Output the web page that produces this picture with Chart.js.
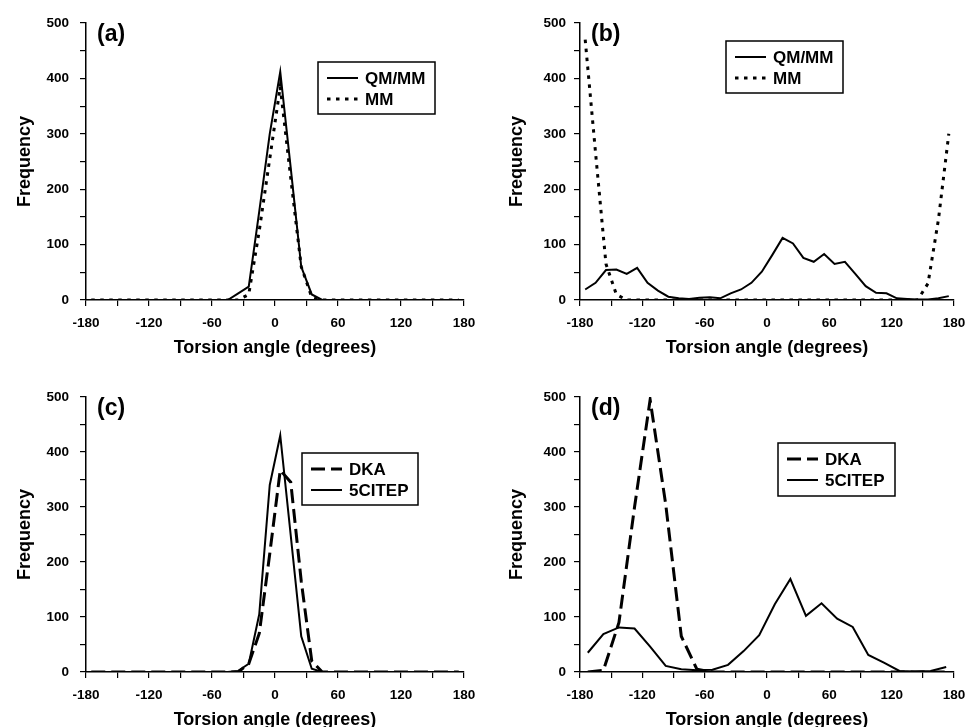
<!DOCTYPE html>
<html>
<head>
<meta charset="utf-8">
<script src="https://cdn.jsdelivr.net/npm/chart.js@4.4.1/dist/chart.umd.min.js"></script>
<style>
  html, body { margin: 0; padding: 0; background: #fff; overflow: hidden; }
  body { width: 969px; height: 727px; position: relative; }
  canvas { position: absolute; }
</style>
</head>
<body>
<canvas id="chartA" width="480" height="360" style="left:0;top:0"></canvas>
<canvas id="chartB" width="489" height="360" style="left:480px;top:0"></canvas>
<canvas id="chartC" width="480" height="380" style="left:0;top:360px"></canvas>
<canvas id="chartD" width="489" height="380" style="left:480px;top:360px"></canvas>
<script>
// bin centres (10 degree bins for a-c, 15 degree bins for d)
const anglesTen = [-175, -165, -155, -145, -135, -125, -115, -105, -95, -85, -75, -65, -55, -45, -35, -25, -15, -5,
  5, 15, 25, 35, 45, 55, 65, 75, 85, 95, 105, 115, 125, 135, 145, 155, 165, 175];
const anglesFifteen = [-172.5, -157.5, -142.5, -127.5, -112.5, -97.5, -82.5, -67.5, -52.5, -37.5, -22.5, -7.5,
  7.5, 22.5, 37.5, 52.5, 67.5, 82.5, 97.5, 112.5, 127.5, 142.5, 157.5, 172.5];

// (a)
const qmmmA = [0, 0, 0, 0, 0, 0, 0, 0, 0, 0, 0, 0, 0, 0, 12, 24, 160, 300,
  412, 238, 60, 10, 0, 0, 0, 0, 0, 0, 0, 0, 0, 0, 0, 0, 0, 0];
const mmA = [0, 0, 0, 0, 0, 0, 0, 0, 0, 0, 0, 0, 0, 0, 0, 10, 125, 255,
  385, 220, 60, 5, 0, 0, 0, 0, 0, 0, 0, 0, 0, 0, 0, 0, 0, 0];
// (b)
const qmmmB = [19, 31, 54, 55, 47, 58, 31, 17, 6, 3, 2, 4, 5, 3, 12, 19, 31, 51,
  81, 112, 102, 76, 69, 83, 65, 69, 47, 25, 13, 12, 3, 2, 1, 1, 3, 7];
const mmB = [470, 265, 65, 10, 0, 0, 0, 0, 0, 0, 0, 0, 0, 0, 0, 0, 0, 0,
  0, 0, 0, 0, 0, 0, 0, 0, 0, 0, 0, 0, 0, 0, 0, 30, 145, 300];
// (c)
const dkaC = [0, 0, 0, 0, 0, 0, 0, 0, 0, 0, 0, 0, 0, 0, 0, 15, 70, 215,
  367, 345, 165, 20, 0, 0, 0, 0, 0, 0, 0, 0, 0, 0, 0, 0, 0, 0];
const citepC = [0, 0, 0, 0, 0, 0, 0, 0, 0, 0, 0, 0, 0, 0, 2, 15, 105, 340,
  430, 248, 65, 6, 0, 0, 0, 0, 0, 0, 0, 0, 0, 0, 0, 0, 0, 0];
// (d)
const dkaD = [0, 3, 90, 300, 495, 305, 65, 5, 0, 0, 0, 0,
  0, 0, 0, 0, 0, 0, 0, 0, 0, 0, 0, 0];
const citepD = [35, 69, 81, 79, 46, 11, 5, 3, 4, 13, 38, 67,
  123, 169, 102, 125, 97, 82, 31, 17, 2, 1, 2, 9];

const FONT = '"Liberation Sans", Arial, Helvetica, sans-serif';
Chart.defaults.font.family = FONT;
Chart.defaults.color = '#000';

const SOLID = { borderDash: [], borderWidth: 2 };
const DOTTED = { borderDash: [3.5, 5.5], borderWidth: 3 };
const DASHED = { borderDash: [14, 6], borderWidth: 3 };

// panel tag "(a)" and the boxed legend inside the plot
const panelDecor = {
  id: 'panelDecor',
  afterDraw(chart, args, opts) {
    const { ctx, chartArea } = chart;
    ctx.save();
    ctx.fillStyle = '#000';
    ctx.textBaseline = 'middle';
    ctx.textAlign = 'left';
    ctx.font = 'bold 23px ' + FONT;
    ctx.fillText(opts.tag, chartArea.left + 11, chartArea.top + 12);

    const b = opts.box;
    const x = chartArea.left + b.dx, y = chartArea.top + b.dy;
    ctx.fillStyle = '#fff';
    ctx.fillRect(x, y, b.w, b.h);
    ctx.lineWidth = 1.5;
    ctx.strokeStyle = '#000';
    ctx.strokeRect(x, y, b.w, b.h);
    ctx.font = 'bold 17px ' + FONT;
    chart.data.datasets.forEach((ds, i) => {
      const ly = y + 16 + i * 21;
      ctx.beginPath();
      ctx.setLineDash(ds.borderDash || []);
      ctx.lineWidth = ds.borderWidth;
      ctx.moveTo(x + 9, ly);
      ctx.lineTo(x + 40, ly);
      ctx.stroke();
      ctx.setLineDash([]);
      ctx.fillStyle = '#000';
      ctx.fillText(ds.label, x + 47, ly + 1);
    });
    ctx.restore();
  }
};

function series(label, angles, values, style) {
  return {
    label,
    data: angles.map((a, i) => ({ x: a, y: values[i] })),
    borderColor: '#000',
    borderWidth: style.borderWidth,
    borderDash: style.borderDash,
    borderCapStyle: 'butt',
    pointRadius: 0,
    tension: 0,
    fill: false
  };
}

function makePanel(id, tag, datasets, lay) {
  new Chart(document.getElementById(id), {
    type: 'line',
    data: { datasets },
    options: {
      responsive: false,
      animation: false,
      layout: { padding: lay.padding },
      scales: {
        x: {
          type: 'linear',
          min: -180, max: 180,
          afterFit: s => { s.height = 60; s.paddingLeft = 0; s.paddingRight = 0; },
          border: { color: '#000', width: 1.5 },
          grid: { drawOnChartArea: false, tickLength: 6, color: '#000', lineWidth: 1.2 },
          ticks: {
            stepSize: 30, autoSkip: false, maxRotation: 0, padding: 9,
            font: { size: 13.5, weight: 'bold' },
            callback: v => (v % 60 === 0 ? String(v) : '')
          },
          title: {
            display: true, text: 'Torsion angle (degrees)',
            font: { size: 18, weight: 'bold' }, padding: { top: 0, bottom: 1 }
          }
        },
        y: {
          min: 0, max: 500,
          afterFit: s => { s.width = lay.yWidth; s.paddingTop = 0; s.paddingBottom = 0; },
          border: { color: '#000', width: 1.5 },
          grid: { drawOnChartArea: false, tickLength: 6, color: '#000', lineWidth: 1.2 },
          ticks: {
            stepSize: 50, autoSkip: false, padding: lay.yTickPad,
            font: { size: 13.5, weight: 'bold' },
            callback: v => (v % 100 === 0 ? String(v) : '')
          },
          title: {
            display: true, text: 'Frequency',
            font: { size: 18, weight: 'bold' }, padding: { top: lay.yTitlePad, bottom: 0 }
          }
        }
      },
      plugins: {
        legend: { display: false },
        tooltip: { enabled: false },
        panelDecor: { tag, box: lay.box }
      }
    },
    plugins: [panelDecor]
  });
}

makePanel('chartA', '(a)', [
  series('QM/MM', anglesTen, qmmmA, SOLID),
  series('MM', anglesTen, mmA, DOTTED)
], { padding: { top: 23, right: 16, bottom: 0, left: 0 }, yWidth: 86, yTickPad: 11, yTitlePad: 14,
     box: { dx: 232, dy: 39, w: 117, h: 52 } });

makePanel('chartB', '(b)', [
  series('QM/MM', anglesTen, qmmmB, SOLID),
  series('MM', anglesTen, mmB, DOTTED)
], { padding: { top: 23, right: 15, bottom: 0, left: 0 }, yWidth: 100, yTickPad: 8, yTitlePad: 26,
     box: { dx: 146, dy: 18, w: 117, h: 52 } });

makePanel('chartC', '(c)', [
  series('DKA', anglesTen, dkaC, DASHED),
  series('5CITEP', anglesTen, citepC, SOLID)
], { padding: { top: 37, right: 16, bottom: 8, left: 0 }, yWidth: 86, yTickPad: 11, yTitlePad: 14,
     box: { dx: 216, dy: 56, w: 116, h: 52 } });

makePanel('chartD', '(d)', [
  series('DKA', anglesFifteen, dkaD, DASHED),
  series('5CITEP', anglesFifteen, citepD, SOLID)
], { padding: { top: 37, right: 15, bottom: 8, left: 0 }, yWidth: 100, yTickPad: 8, yTitlePad: 26,
     box: { dx: 198, dy: 46, w: 117, h: 53 } });
</script>
</body>
</html>
